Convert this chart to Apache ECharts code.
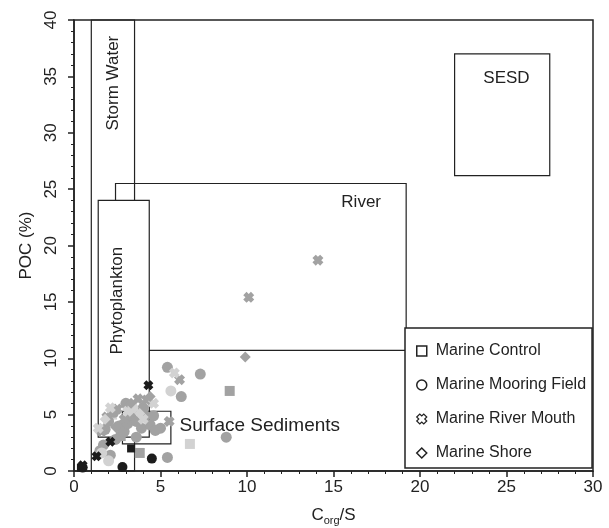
<!DOCTYPE html>
<html>
<head>
<meta charset="utf-8">
<script src="https://cdn.jsdelivr.net/npm/echarts@6/dist/echarts.min.js"></script>
<style>
  html, body { margin: 0; padding: 0; background: #fff; }
  #chart { width: 609px; height: 528px; }
</style>
</head>
<body>
<div id="chart"></div>
<script>
// regions (boxes) drawn on the plot, in drawing order
const regionNames = ['River', 'Storm Water', 'Phytoplankton', 'Surface Sediments', 'SESD'];
const regionX0 = [2.4, 1.0, 1.4, 2.8, 22.0];
const regionX1 = [19.2, 3.5, 4.35, 5.6, 27.5];
const regionY0 = [10.7, 0, 3.0, 2.4, 26.2];
const regionY1 = [25.5, 40, 24.0, 5.3, 37.0];

const xTicks = [0, 5, 10, 15, 20, 25, 30];
const yTicks = [0, 5, 10, 15, 20, 25, 30, 35, 40];

// Marine Control (squares)
const controlBlack = [[3.3, 2.0], [0.4, 0.3]];
const controlGrey = [[9.0, 7.1], [3.8, 1.6], [2.7, 3.1]];
const controlLight = [[6.7, 2.4], [2.2, 5.0]];

// Marine Mooring Field (circles)
const mooringBlack = [[4.5, 1.1], [2.8, 0.35], [0.5, 0.3]];
const mooringGrey = [[1.5, 1.8], [1.8, 3.7], [2.0, 4.4], [2.3, 5.2], [2.6, 4.0], [2.9, 3.5],
  [3.1, 4.2], [3.3, 5.0], [3.6, 4.4], [3.9, 3.8], [4.1, 4.9], [4.4, 4.1], [4.7, 3.6],
  [3.6, 3.0], [2.4, 2.8], [1.7, 2.3], [3.0, 6.0], [4.0, 5.6], [2.1, 1.4], [4.6, 4.9],
  [5.4, 1.2], [8.8, 3.0], [6.2, 6.6], [7.3, 8.6], [5.4, 9.2], [5.0, 3.8]];
const mooringLight = [[5.6, 7.1], [2.0, 0.9], [1.6, 1.6], [3.4, 5.6]];

// Marine River Mouth (crosses)
const mouthBlack = [[4.3, 7.6], [2.1, 2.6], [1.3, 1.3], [0.5, 0.5]];
const mouthGrey = [[10.1, 15.4], [14.1, 18.7], [6.1, 8.1], [5.5, 4.4], [4.2, 6.3], [3.7, 6.4],
  [2.5, 5.5], [1.9, 4.8], [2.9, 4.6], [1.6, 3.5]];
const mouthLight = [[5.8, 8.7], [2.1, 5.6], [3.1, 5.3], [4.0, 4.6], [4.6, 6.0], [1.4, 3.8]];

// Marine Shore (diamonds)
const shoreGrey = [[9.9, 10.1], [4.4, 6.6], [3.3, 6.0], [2.4, 3.9]];
const shoreLight = [[1.8, 4.6], [3.8, 5.1]];

const seriesNames = ['Marine Control', 'Marine Mooring Field', 'Marine River Mouth', 'Marine Shore'];

const INK = '#222';
const BLACK = '#1c1c1c', GREY = '#a2a2a2', LIGHT = '#d2d2d2';
const FONT = 'Liberation Sans';
const crossPath = 'path://M0,3L3,0L5,2L7,0L10,3L8,5L10,7L7,10L5,8L3,10L0,7L2,5Z';

// how each box is drawn and where its label sits
const regionStyle = {
  'River': { fill: '#fff', label: 'River', at: [16.6, 23.8], rot: 0, size: 17 },
  'Storm Water': { fill: null, label: 'Storm Water', at: [2.3, 34.4], rot: Math.PI / 2, size: 17 },
  'Phytoplankton': { fill: '#fff', label: 'Phytoplankton', at: [2.5, 15.1], rot: Math.PI / 2, size: 17 },
  'Surface Sediments': { fill: null, label: 'Surface Sediments', at: [6.1, 4.0], rot: 0, size: 19, align: 'left' },
  'SESD': { fill: null, label: 'SESD', at: [25.0, 34.8], rot: 0, size: 17 }
};

const regionData = regionNames.map((n, i) => [regionX0[i], regionY0[i], regionX1[i], regionY1[i], i]);

function scatter(name, data, symbol, color, size) {
  return {
    name: name, type: 'scatter', data: data, symbol: symbol, symbolSize: size,
    itemStyle: { color: color, opacity: 1 }, z: 3
  };
}

const chart = echarts.init(document.getElementById('chart'));
chart.setOption({
  animation: false,
  textStyle: { fontFamily: FONT },
  grid: {
    left: 74, right: 16, top: 20, bottom: 57, containLabel: false, outerBoundsMode: 'none',
    show: true, borderColor: INK, borderWidth: 1.5
  },
  legend: {
    orient: 'vertical', left: 405, top: 328,
    padding: [14, 6, 6, 11], itemGap: 16,
    borderColor: INK, borderWidth: 1.5, backgroundColor: '#fff',
    itemWidth: 10, itemHeight: 10,
    textStyle: { fontSize: 16, color: INK, fontFamily: FONT, lineHeight: 18, padding: [0, 0, 0, 4] },
    data: [
      { name: 'Marine Control', icon: 'rect', itemStyle: { color: '#fff', borderColor: INK, borderWidth: 1.5 } },
      { name: 'Marine Mooring Field', icon: 'circle', itemStyle: { color: '#fff', borderColor: INK, borderWidth: 1.5 } },
      { name: 'Marine River Mouth', icon: crossPath, itemStyle: { color: '#fff', borderColor: INK, borderWidth: 1.2 } },
      { name: 'Marine Shore', icon: 'diamond', itemStyle: { color: '#fff', borderColor: INK, borderWidth: 1.5 } }
    ]
  },
  xAxis: {
    type: 'value', min: 0, max: 30, interval: 5,
    name: '{a|C}{s|org}{a|/S}', nameLocation: 'middle', nameGap: 34,
    nameTextStyle: {
      color: INK,
      rich: {
        a: { fontSize: 17, color: INK, fontFamily: FONT },
        s: { fontSize: 11, color: INK, fontFamily: FONT, padding: [10, 0, 0, 0] }
      }
    },
    axisLine: { lineStyle: { color: INK, width: 1.5 } },
    axisTick: { length: 6, lineStyle: { color: INK, width: 1.5 } },
    minorTick: { show: true, splitNumber: 5, length: 3, lineStyle: { color: INK, width: 1 } },
    axisLabel: { fontSize: 17, color: INK, margin: 8, formatter: v => xTicks.includes(v) ? String(v) : '' },
    splitLine: { show: false }
  },
  yAxis: {
    type: 'value', min: 0, max: 40, interval: 5,
    name: 'POC (%)', nameLocation: 'middle', nameGap: 37, nameRotate: 90,
    nameTextStyle: { fontSize: 17, color: INK },
    axisLine: { lineStyle: { color: INK, width: 1.5 } },
    axisTick: { length: 6, lineStyle: { color: INK, width: 1.5 } },
    minorTick: { show: true, splitNumber: 5, length: 3, lineStyle: { color: INK, width: 1 } },
    axisLabel: { fontSize: 17, color: INK, rotate: 90, margin: 14, formatter: v => yTicks.includes(v) ? String(v) : '' },
    splitLine: { show: false }
  },
  series: [
    {
      type: 'custom', name: 'regions', z: 1, silent: true,
      data: regionData,
      renderItem: function (params, api) {
        const p0 = api.coord([api.value(0), api.value(3)]);
        const p1 = api.coord([api.value(2), api.value(1)]);
        const name = regionNames[api.value(4)];
        const st = regionStyle[name];
        const lp = api.coord(st.at);
        return {
          type: 'group',
          children: [
            {
              type: 'rect',
              shape: { x: p0[0], y: p0[1], width: p1[0] - p0[0], height: p1[1] - p0[1] },
              style: { fill: st.fill || 'none', stroke: INK, lineWidth: 1.2 }
            },
            {
              type: 'text', x: lp[0], y: lp[1], rotation: st.rot,
              style: {
                text: st.label, fill: INK, font: st.size + 'px ' + FONT,
                align: st.align || 'center', verticalAlign: 'middle'
              }
            }
          ]
        };
      }
    },
    scatter(seriesNames[0], controlGrey, 'rect', GREY, 10),
    scatter(seriesNames[0], controlLight, 'rect', LIGHT, 10),
    scatter(seriesNames[1], mooringGrey, 'circle', GREY, 11),
    scatter(seriesNames[1], mooringLight, 'circle', LIGHT, 11),
    scatter(seriesNames[2], mouthGrey, crossPath, GREY, 11),
    scatter(seriesNames[2], mouthLight, crossPath, LIGHT, 11),
    scatter(seriesNames[3], shoreGrey, 'diamond', GREY, 11),
    scatter(seriesNames[3], shoreLight, 'diamond', LIGHT, 11),
    scatter(seriesNames[0], controlBlack, 'rect', BLACK, 8),
    scatter(seriesNames[1], mooringBlack, 'circle', BLACK, 10),
    scatter(seriesNames[2], mouthBlack, crossPath, BLACK, 10)
  ]
});
</script>
</body>
</html>
